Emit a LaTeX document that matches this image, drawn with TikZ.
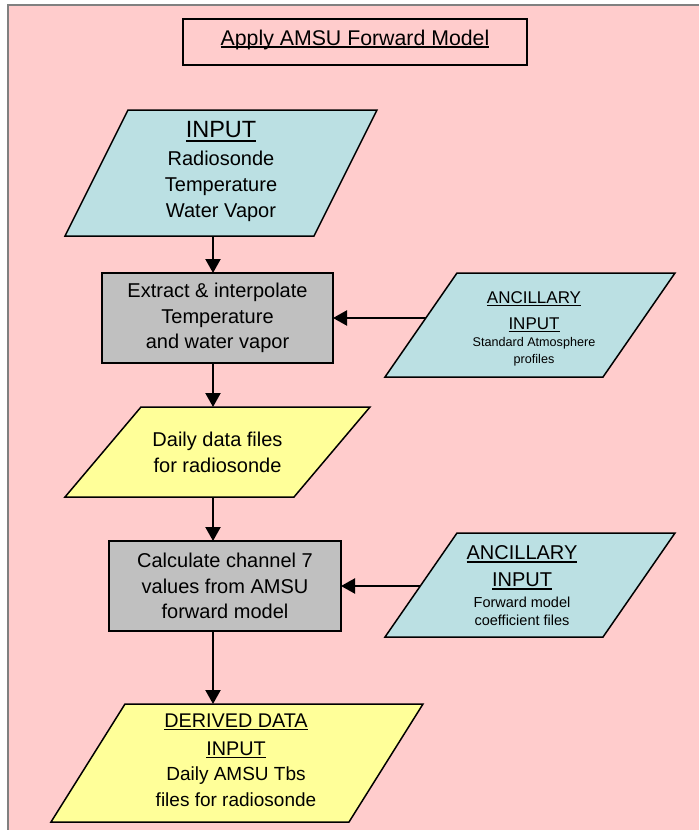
\documentclass[tikz,border=0pt]{standalone}
\usepackage{fontspec}
\setmainfont{Liberation Sans}
\usetikzlibrary{arrows.meta}
\definecolor{pinkbg}{HTML}{FFCCCC}
\definecolor{cyanbox}{HTML}{BBE0E3}
\definecolor{yellowbox}{HTML}{FFFF99}
\definecolor{graybox}{HTML}{C0C0C0}
\definecolor{bordergray}{HTML}{808080}
\pgfdeclarelayer{back}
\pgfdeclarelayer{mid}
\pgfsetlayers{back,mid,main}
\newcommand\myul[2][0.14em]{\setbox0\hbox{#2}\rlap{\rule[-#1]{\wd0}{0.07em}}\box0}
% parallelogram drawn on the bounding rectangle of a named node
\newcommand\paragram[3]{%
  \filldraw[fill=#3, draw=black, line width=1.5pt, line join=miter]
    (#1.south west) -- ([xshift=#2]#1.north west) -- (#1.north east)
    -- ([xshift=-#2]#1.south east) -- cycle;}
\tikzset{
  frame/.style={rectangle, draw=none, inner sep=0pt, outer sep=0pt},
  procbox/.style={rectangle, draw=black, line width=1.5pt, fill=graybox, inner sep=0pt,
    outer sep=0pt, align=center, font=\fontsize{20}{25.5}\selectfont},
  txt/.style={inner sep=0pt, align=center},
  arr/.style={line width=2.2pt, -{Triangle[length=14pt,width=15pt]}},
}
\begin{document}
\begin{tikzpicture}[x=1pt,y=-1pt]
\useasboundingbox (0,0) rectangle (699,830);
\begin{pgfonlayer}{back}
\fill[pinkbg] (8,5) rectangle (699,830);
\draw[bordergray, line width=1.6pt] (8,830) -- (8,5) -- (699,5);
\end{pgfonlayer}

% title
\node[draw=black, line width=1.3pt, minimum width=344pt, minimum height=46pt, inner sep=0pt] (title) at (355,42) {};
\node[txt, font=\fontsize{21.3}{25}\selectfont] (titletx) at (355,40.3) {\myul[0.08em]{Apply AMSU Forward Model}};

% input
\node[frame, minimum width=312pt, minimum height=126pt] (in) at (221,173) {};
\paragram{in}{63pt}{cyanbox}
\node[txt, font=\fontsize{20}{26}\selectfont] (intx) at (221,171.7)
  {{\fontsize{23.5}{26}\selectfont\myul[0.17em]{INPUT}}\\[2pt]Radiosonde\\Temperature\\Water Vapor};

% process 1
\node[procbox, minimum width=231pt, minimum height=90pt] (g1) at (217.5,318)
  {Extract \& interpolate\\Temperature\\and water vapor};

% ancillary 1
\node[frame, minimum width=290pt, minimum height=104pt] (anc1) at (530,325) {};
\paragram{anc1}{72pt}{cyanbox}
\node[txt, font=\fontsize{12.6}{16.5}\selectfont] (anc1tx) at (534,329)
  {{\fontsize{17}{20}\selectfont\myul{ANCILLARY}}\\[9.5pt]{\fontsize{17}{20}\selectfont\myul{INPUT}}\\[0.5pt]Standard Atmosphere\\profiles};

% daily data files
\node[frame, minimum width=305pt, minimum height=90pt] (y1) at (217.5,452) {};
\paragram{y1}{76pt}{yellowbox}
\node[txt, font=\fontsize{20}{26}\selectfont] (y1tx) at (217.5,452)
  {Daily data files\\for radiosonde};

% process 2
\node[procbox, minimum width=232pt, minimum height=90pt] (g2) at (225,586)
  {Calculate channel 7\\values from AMSU\\forward model};

% ancillary 2
\node[frame, minimum width=290pt, minimum height=104pt] (anc2) at (530,585) {};
\paragram{anc2}{72pt}{cyanbox}
\node[txt, font=\fontsize{14.5}{18}\selectfont] (anc2tx) at (522,585.8)
  {{\fontsize{20}{24}\selectfont\myul{ANCILLARY}}\\[9pt]{\fontsize{20}{24}\selectfont\myul{INPUT}}\\[3pt]Forward model\\coefficient files};

% derived
\node[frame, minimum width=372pt, minimum height=118pt] (der) at (237,763) {};
\paragram{der}{74pt}{yellowbox}
\node[txt, font=\fontsize{19}{26}\selectfont] (dertx) at (236,760.4)
  {{\fontsize{19.8}{26}\selectfont\myul{DERIVED DATA}}\\[2pt]{\fontsize{19.8}{26}\selectfont\myul{INPUT}}\\[-1pt]Daily AMSU Tbs\\[0pt]files for radiosonde};

% connectors
\coordinate (spine) at (213,0);
\draw[arr] (in.south -| spine) -- (g1.north -| spine);
\draw[arr] (g1.south -| spine) -- (y1.north -| spine);
\draw[arr] (y1.south -| spine) -- (g2.north -| spine);
\draw[arr] (g2.south -| spine) -- (der.north -| spine);
\begin{pgfonlayer}{mid}
\draw[arr] (anc1.center |- g1.east) -- (g1.east);
\draw[arr] (anc2.center |- g2.east) -- (g2.east);
\end{pgfonlayer}
\end{tikzpicture}
\end{document}
